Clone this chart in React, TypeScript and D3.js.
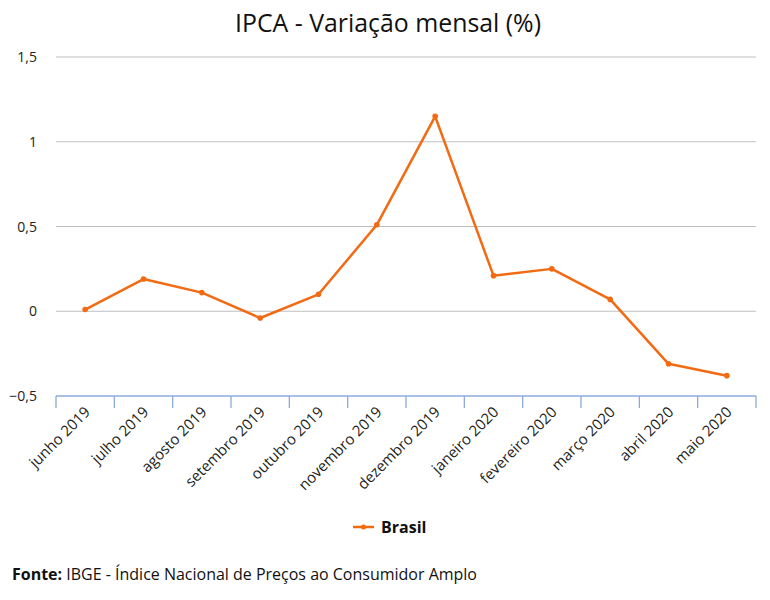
import React from "react";
import * as d3 from "d3";

const categories = ["junho 2019","julho 2019","agosto 2019","setembro 2019","outubro 2019","novembro 2019","dezembro 2019","janeiro 2020","fevereiro 2020","março 2020","abril 2020","maio 2020"];
const values = [0.01, 0.19, 0.11, -0.04, 0.10, 0.51, 1.15, 0.21, 0.25, 0.07, -0.31, -0.38];
const yTicks = [-0.5, 0, 0.5, 1, 1.5];
const seriesName = "Brasil";
const title = "IPCA - Variação mensal (%)";

export default function App() {
  const W = 770, H = 600;
  const left = 56, right = 756, top = 57, bottom = 396;
  const x = d3.scaleBand<string>().domain(categories).range([left, right]);
  const y = d3.scaleLinear().domain([-0.5, 1.5]).range([bottom, top]);
  const color = "#F26A12";
  const fmt = (v: number) => (v < 0 ? "\u2212" : "") + String(Math.abs(v)).replace(".", ",");
  const line = d3.line<number>().x((_, i) => x(categories[i])! + x.bandwidth() / 2).y(d => y(d));
  const font = "'Open Sans', 'DejaVu Sans', sans-serif";
  const edges = [...categories.map(c => x(c)!), right];
  return (
    <svg width={W} height={H} style={{ position: "absolute", left: 0, top: 0, background: "#fff" }} fontFamily={font}>
      <text x={388} y={32} textAnchor="middle" fontSize={25} fill="#111" textLength={306} lengthAdjust="spacingAndGlyphs">{title}</text>
      {yTicks.map(t => (
        <g key={t}>
          {t > -0.5 && <line x1={left} x2={right} y1={y(t)} y2={y(t)} stroke="#bfbfbf" strokeWidth={1.2} />}
          <text x={37} y={y(t) + 5} textAnchor="end" fontSize={14} fill="#222">{fmt(t)}</text>
        </g>
      ))}
      <line x1={left} x2={right} y1={bottom} y2={bottom} stroke="#8eaadb" strokeWidth={1.3} />
      {edges.map((e, i) => (
        <line key={i} x1={e} x2={e} y1={bottom} y2={bottom + 12} stroke="#8eaadb" strokeWidth={1.3} />
      ))}
      {categories.map(c => {
        const cx = x(c)! + x.bandwidth() / 2 + 6;
        const cy = bottom + 17;
        return (
          <text key={c} transform={`translate(${cx},${cy}) rotate(-45)`} textAnchor="end" fontSize={15} fill="#222">{c}</text>
        );
      })}
      <path d={line(values) || ""} fill="none" stroke={color} strokeWidth={2.5} strokeLinejoin="round" />
      {values.map((v, i) => (
        <circle key={i} cx={x(categories[i])! + x.bandwidth() / 2} cy={y(v)} r={2.8} fill={color} />
      ))}
      <line x1={353} x2={374} y1={527} y2={527} stroke={color} strokeWidth={2.5} />
      <circle cx={363.5} cy={527} r={2.5} fill={color} />
      <text x={381} y={533} fontSize={16} fontWeight="bold" fill="#111">{seriesName}</text>
      <text x={12} y={580} fontSize={16} fill="#111" textLength={465} lengthAdjust="spacingAndGlyphs"><tspan fontWeight="bold">Fonte:</tspan> IBGE - Índice Nacional de Preços ao Consumidor Amplo</text>
    </svg>
  );
}
